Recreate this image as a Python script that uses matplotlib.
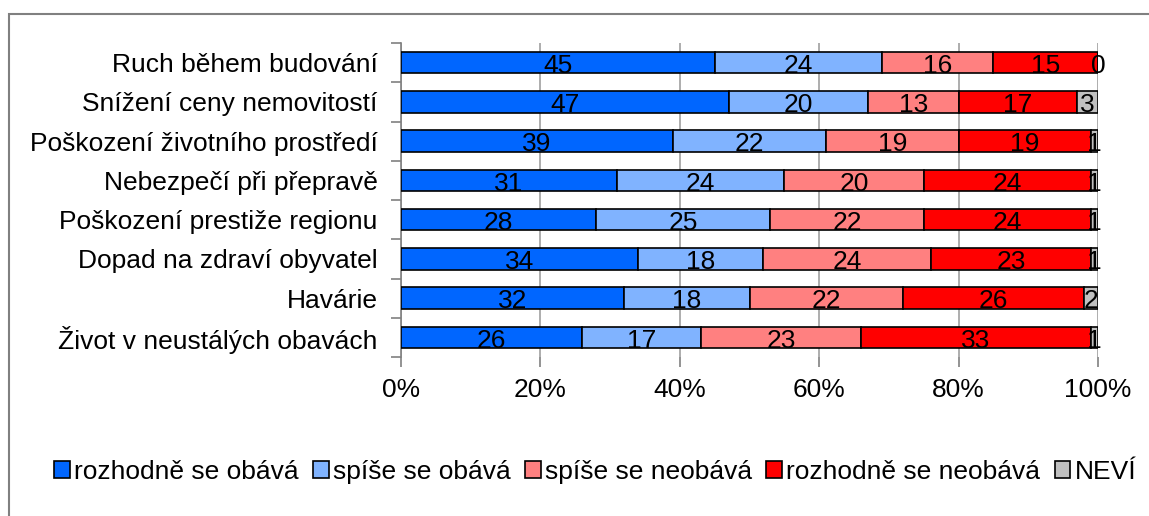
import numpy as np
import matplotlib
matplotlib.use('Agg')
import matplotlib.pyplot as plt
from matplotlib.patches import Rectangle

plt.rcParams['font.family'] = ['Liberation Sans', 'DejaVu Sans']

categories = ['Ruch během budování', 'Snížení ceny nemovitostí', 'Poškození životního prostředí',
              'Nebezpečí při přepravě', 'Poškození prestiže regionu', 'Dopad na zdraví obyvatel',
              'Havárie', 'Život v neustálých obavách']
series_names = ['rozhodně se obává', 'spíše se obává', 'spíše se neobává', 'rozhodně se neobává', 'NEVÍ']
rozhodne_obava = [45, 47, 39, 31, 28, 34, 32, 26]
spise_obava = [24, 20, 22, 24, 25, 18, 18, 17]
spise_neobava = [16, 13, 19, 20, 22, 24, 22, 23]
rozhodne_neobava = [15, 17, 19, 24, 24, 23, 26, 33]
nevi = [0, 3, 1, 1, 1, 1, 2, 1]
colors = ['#0066ff', '#80b3ff', '#ff8080', '#ff0000', '#c0c0c0']

data = np.array([rozhodne_obava, spise_obava, spise_neobava, rozhodne_neobava, nevi], dtype=float)
pct = data / data.sum(axis=0) * 100

FS = 19

fig = plt.figure(figsize=(11.49, 5.16), dpi=100)
ax = fig.add_axes([401 / 1149, 1 - 357 / 516, 697 / 1149, 314 / 516])

# gray frame around chart
fig.patches.append(Rectangle((9 / 1149, -0.1), 1.2, (516 - 14) / 516 + 0.1, transform=fig.transFigure,
                             fill=False, edgecolor='#808080', linewidth=1.5, zorder=0))

y = np.arange(len(categories))
left = np.zeros(len(categories))
for i in range(len(series_names)):
    ax.barh(y, pct[i], left=left, height=0.55, color=colors[i], edgecolor='black',
            linewidth=1.2, label=series_names[i], zorder=3)
    for j in range(len(categories)):
        ax.text(left[j] + pct[i][j] / 2, y[j] + 0.08, '%d' % data[i][j], ha='center', va='center',
                fontsize=FS, zorder=4)
    left += pct[i]

ax.set_xlim(0, 100)
ax.set_ylim(len(categories) - 0.5, -0.5)
ax.set_xticks(np.arange(0, 101, 20))
ax.set_xticklabels(['%d%%' % v for v in range(0, 101, 20)], fontsize=FS)
ax.set_yticks(y)
ax.set_yticklabels(categories, fontsize=FS)
ax.set_yticks(np.arange(-0.5, len(categories)), minor=True)
ax.tick_params(axis='y', which='major', length=0, pad=17)
ax.tick_params(axis='y', which='minor', length=7, color='#808080', width=1.2)
ax.tick_params(axis='x', length=7, color='#808080', width=1.2, pad=8)
ax.grid(axis='x', color='#a0a0a0', linewidth=1.2, zorder=0)
for s in ['top', 'right', 'bottom']:
    ax.spines[s].set_visible(False)
ax.spines['left'].set_color('#808080')
ax.spines['left'].set_linewidth(1.2)

fig.legend(loc='center', bbox_to_anchor=(595 / 1149, 1 - 472 / 516), ncol=5, frameon=False, fontsize=FS,
           handlelength=0.6, handleheight=0.6, handletextpad=0.15, columnspacing=0.55,
           borderpad=0, borderaxespad=0)

fig.savefig('out.png', dpi=100)
